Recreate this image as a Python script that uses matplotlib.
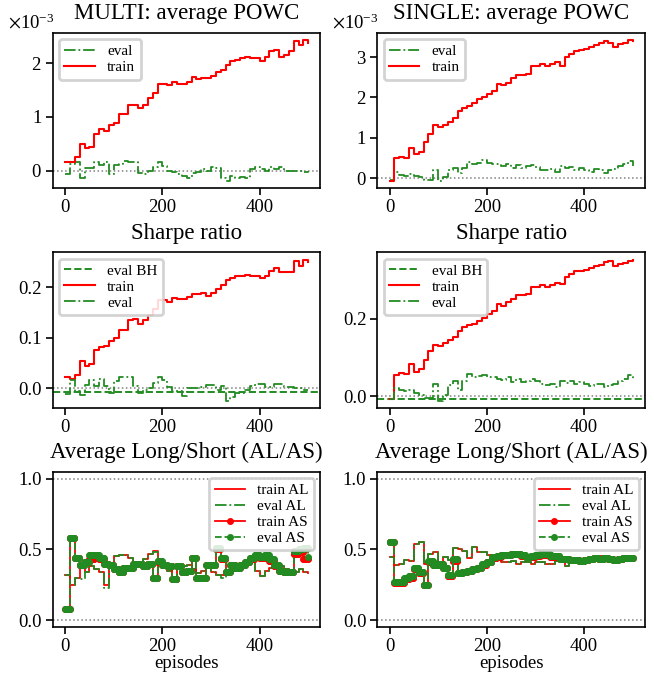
import numpy as np
import matplotlib.pyplot as plt
from matplotlib.ticker import ScalarFormatter

# --- dados (um valor a cada 10 episódios) ---
episodios = np.arange(0, 501, 10)

# POWC médio (x 1e-3)
multi_powc_train = [0.15, 0.15, 0.25, 0.50, 0.42, 0.43, 0.69, 0.77, 0.73, 0.84,
                    0.89, 1.06, 1.06, 1.22, 1.23, 1.17, 1.23, 1.35, 1.45, 1.62,
                    1.61, 1.59, 1.65, 1.62, 1.61, 1.65, 1.74, 1.71, 1.72, 1.72,
                    1.77, 1.84, 1.88, 1.97, 2.04, 2.06, 2.09, 2.11, 2.09, 2.10,
                    2.04, 2.11, 2.23, 2.24, 2.11, 2.16, 2.22, 2.41, 2.33, 2.43, 2.38]
multi_powc_eval = [-0.07, 0.12, 0.15, -0.13, 0.05, 0.04, 0.15, 0.11, 0.15, -0.07,
                   0.10, 0.12, 0.17, 0.15, 0.15, -0.04, -0.07, -0.01, 0.06, 0.15,
                   0.08, 0.00, -0.02, -0.07, -0.10, -0.13, -0.04, -0.02, 0.02, -0.01,
                   0.07, 0.04, -0.13, -0.20, -0.10, -0.13, -0.12, -0.13, 0.02, 0.06,
                   0.03, 0.00, 0.06, 0.02, 0.06, 0.00, 0.00, 0.00, -0.01, -0.02, -0.01]
single_powc_train = [-0.07, 0.49, 0.52, 0.49, 0.75, 0.60, 0.65, 0.90, 1.10, 1.31,
                     1.27, 1.31, 1.39, 1.49, 1.66, 1.74, 1.79, 1.85, 1.96, 2.00,
                     2.08, 2.15, 2.33, 2.30, 2.36, 2.48, 2.56, 2.56, 2.58, 2.77,
                     2.77, 2.82, 2.77, 2.83, 2.87, 2.77, 3.00, 3.08, 3.15, 3.17,
                     3.19, 3.24, 3.29, 3.34, 3.39, 3.34, 3.25, 3.32, 3.34, 3.42, 3.39]
single_powc_eval = [-0.05, 0.15, 0.08, 0.06, 0.10, 0.05, 0.02, -0.05, -0.04, 0.20,
                    -0.08, 0.02, 0.20, 0.25, 0.12, 0.25, 0.40, 0.35, 0.38, 0.44,
                    0.38, 0.36, 0.35, 0.30, 0.35, 0.25, 0.32, 0.25, 0.30, 0.32,
                    0.28, 0.20, 0.20, 0.22, 0.15, 0.30, 0.25, 0.28, 0.20, 0.25,
                    0.20, 0.15, 0.22, 0.20, 0.12, 0.20, 0.22, 0.30, 0.35, 0.42, 0.30]

# Sharpe ratio
multi_sharpe_train = [0.022, 0.017, 0.026, 0.054, 0.044, 0.047, 0.076, 0.082, 0.084, 0.093,
                      0.100, 0.116, 0.115, 0.134, 0.136, 0.127, 0.135, 0.145, 0.157, 0.174,
                      0.174, 0.170, 0.179, 0.176, 0.177, 0.181, 0.186, 0.186, 0.188, 0.182,
                      0.189, 0.196, 0.204, 0.215, 0.218, 0.223, 0.223, 0.224, 0.222, 0.223,
                      0.219, 0.223, 0.233, 0.238, 0.230, 0.230, 0.230, 0.253, 0.243, 0.255, 0.251]
multi_sharpe_eval = [-0.012, 0.015, -0.005, -0.013, 0.007, 0.016, 0.005, 0.018, 0.005, -0.010,
                     0.014, 0.022, 0.021, 0.021, 0.005, -0.010, -0.003, 0.000, 0.010, 0.022,
                     0.015, 0.003, -0.006, -0.006, -0.015, 0.000, 0.000, 0.000, 0.002, 0.006,
                     0.006, -0.004, 0.005, -0.025, -0.018, -0.010, -0.010, -0.004, 0.005, 0.009,
                     0.009, 0.003, 0.003, 0.008, 0.008, 0.002, 0.002, 0.000, 0.000, -0.003, -0.003]
multi_sharpe_bh = -0.008
single_sharpe_train = [-0.009, 0.055, 0.059, 0.057, 0.083, 0.061, 0.070, 0.094, 0.116, 0.133,
                       0.130, 0.137, 0.146, 0.153, 0.168, 0.179, 0.183, 0.185, 0.194, 0.202,
                       0.211, 0.220, 0.237, 0.233, 0.242, 0.252, 0.261, 0.261, 0.263, 0.283,
                       0.283, 0.287, 0.281, 0.287, 0.292, 0.290, 0.307, 0.316, 0.322, 0.324,
                       0.327, 0.330, 0.336, 0.339, 0.346, 0.348, 0.337, 0.342, 0.344, 0.350, 0.353]
single_sharpe_eval = [-0.008, 0.020, 0.015, 0.012, 0.015, 0.008, 0.002, -0.005, -0.005, 0.030,
                      -0.012, 0.003, 0.028, 0.038, 0.015, 0.038, 0.057, 0.050, 0.052, 0.055,
                      0.050, 0.048, 0.045, 0.042, 0.048, 0.035, 0.045, 0.035, 0.040, 0.043,
                      0.040, 0.030, 0.028, 0.030, 0.022, 0.040, 0.033, 0.038, 0.030, 0.035,
                      0.030, 0.025, 0.032, 0.030, 0.022, 0.028, 0.030, 0.040, 0.045, 0.055, 0.040]
single_sharpe_bh = -0.008

# Average Long / Short
multi_train_al = [0.32, 0.25, 0.30, 0.37, 0.34, 0.38, 0.36, 0.34, 0.25, 0.40,
                  0.455, 0.46, 0.46, 0.44, 0.40, 0.39, 0.43, 0.47, 0.49, 0.39,
                  0.37, 0.35, 0.37, 0.36, 0.385, 0.39, 0.36, 0.33, 0.35, 0.37,
                  0.34, 0.32, 0.32, 0.35, 0.36, 0.39, 0.40, 0.40, 0.41, 0.35,
                  0.315, 0.35, 0.37, 0.40, 0.385, 0.36, 0.35, 0.34, 0.36, 0.34, 0.33]
multi_eval_al = [0.32, 0.25, 0.30, 0.29, 0.34, 0.38, 0.36, 0.34, 0.23, 0.40,
                 0.455, 0.46, 0.46, 0.44, 0.40, 0.39, 0.43, 0.47, 0.48, 0.39,
                 0.37, 0.35, 0.37, 0.36, 0.385, 0.39, 0.36, 0.33, 0.35, 0.37,
                 0.34, 0.32, 0.30, 0.35, 0.36, 0.39, 0.40, 0.40, 0.41, 0.35,
                 0.315, 0.35, 0.37, 0.40, 0.385, 0.36, 0.35, 0.34, 0.36, 0.34, 0.33]
multi_train_as = [0.075, 0.58, 0.44, 0.39, 0.41, 0.43, 0.44, 0.43, 0.40, 0.39,
                  0.36, 0.34, 0.37, 0.37, 0.40, 0.40, 0.385, 0.40, 0.30, 0.41,
                  0.39, 0.38, 0.29, 0.38, 0.34, 0.35, 0.44, 0.30, 0.30, 0.39,
                  0.39, 0.50, 0.43, 0.34, 0.39, 0.37, 0.39, 0.41, 0.43, 0.45,
                  0.44, 0.45, 0.42, 0.38, 0.35, 0.34, 0.34, 0.47, 0.48, 0.43, 0.44]
multi_eval_as = [0.075, 0.58, 0.44, 0.39, 0.41, 0.46, 0.46, 0.44, 0.40, 0.39,
                 0.36, 0.34, 0.37, 0.37, 0.40, 0.40, 0.385, 0.40, 0.30, 0.42,
                 0.39, 0.38, 0.29, 0.38, 0.34, 0.35, 0.44, 0.30, 0.30, 0.39,
                 0.39, 0.51, 0.44, 0.34, 0.39, 0.37, 0.39, 0.41, 0.44, 0.46,
                 0.45, 0.46, 0.43, 0.39, 0.35, 0.34, 0.34, 0.49, 0.50, 0.51, 0.45]
single_train_al = [0.45, 0.39, 0.395, 0.425, 0.42, 0.54, 0.55, 0.395, 0.47, 0.48,
                   0.41, 0.45, 0.425, 0.51, 0.50, 0.49, 0.44, 0.52, 0.48, 0.48,
                   0.46, 0.455, 0.425, 0.41, 0.41, 0.42, 0.40, 0.41, 0.41, 0.40,
                   0.41, 0.41, 0.40, 0.40, 0.42, 0.41, 0.38, 0.44, 0.44, 0.435,
                   0.44, 0.45, 0.44, 0.455, 0.45, 0.45, 0.44, 0.435, 0.44, 0.445, 0.45]
single_eval_al = [0.45, 0.39, 0.395, 0.425, 0.42, 0.54, 0.55, 0.395, 0.47, 0.48,
                  0.41, 0.45, 0.425, 0.51, 0.50, 0.49, 0.45, 0.52, 0.48, 0.48,
                  0.46, 0.455, 0.425, 0.41, 0.41, 0.42, 0.40, 0.41, 0.41, 0.40,
                  0.41, 0.41, 0.40, 0.40, 0.42, 0.41, 0.38, 0.44, 0.44, 0.435,
                  0.44, 0.45, 0.44, 0.455, 0.45, 0.45, 0.44, 0.435, 0.44, 0.445, 0.45]
single_train_as = [0.555, 0.26, 0.265, 0.29, 0.30, 0.36, 0.33, 0.25, 0.41, 0.39,
                   0.395, 0.37, 0.31, 0.42, 0.33, 0.34, 0.35, 0.36, 0.37, 0.39,
                   0.41, 0.44, 0.45, 0.46, 0.46, 0.465, 0.47, 0.455, 0.45, 0.45,
                   0.455, 0.46, 0.46, 0.45, 0.45, 0.43, 0.43, 0.425, 0.425, 0.42,
                   0.425, 0.43, 0.44, 0.435, 0.44, 0.435, 0.425, 0.43, 0.437, 0.44, 0.44]
single_eval_as = [0.555, 0.27, 0.27, 0.295, 0.31, 0.37, 0.34, 0.25, 0.42, 0.39,
                  0.395, 0.37, 0.32, 0.43, 0.33, 0.34, 0.35, 0.36, 0.37, 0.395,
                  0.41, 0.45, 0.455, 0.46, 0.46, 0.47, 0.47, 0.46, 0.45, 0.455,
                  0.46, 0.465, 0.465, 0.455, 0.455, 0.43, 0.43, 0.425, 0.425, 0.42,
                  0.425, 0.43, 0.44, 0.435, 0.44, 0.435, 0.425, 0.43, 0.437, 0.44, 0.44]
# ---------------------------------------------------------------

plt.rcParams['font.family'] = ['Liberation Serif', 'DejaVu Serif']
plt.rcParams['mathtext.fontset'] = 'stix'
plt.rcParams['font.size'] = 13

VERMELHO = '#ff0000'
VERDE = '#228b22'


def estilo(ax, yticks, titulo):
    # y fixo: evita que o título suba por causa do texto de offset
    ax.set_title(titulo, fontsize=16.5, y=1.0, pad=10)
    ax.set_xticks([0, 200, 400])
    ax.set_yticks(yticks)
    ax.tick_params(direction='out', length=5, width=1.2, labelsize=13.5,
                   top=False, right=False, pad=3)
    for s in ax.spines.values():
        s.set_linewidth(1.2)


def legenda(ax, loc):
    leg = ax.legend(loc=loc, fontsize=11, framealpha=0.85, edgecolor='0.8',
                    labelspacing=0.15, borderpad=0.35, handlelength=2.0,
                    handletextpad=0.8, borderaxespad=0.4)
    leg.get_frame().set_linewidth(2.0)


def passos(ax, y, **kw):
    ax.plot(episodios, y, drawstyle='steps-post', **kw)


def passos_marcados(ax, y, **kw):
    # um marcador por episódio, valor mantido dentro de cada bloco de 10
    ep = np.arange(0, 501)
    ax.plot(ep, np.asarray(y)[ep // 10], drawstyle='steps-post',
            marker='o', markersize=4, **kw)


fig, axes = plt.subplots(3, 2, figsize=(6.54, 6.75), dpi=100)
fig.subplots_adjust(left=0.081, right=0.986, top=0.951, bottom=0.071,
                    wspace=0.213, hspace=0.413)

# linha 1: POWC
for ax, tr, ev, nome, yt in [
        (axes[0, 0], multi_powc_train, multi_powc_eval, 'MULTI', [0, 1e-3, 2e-3]),
        (axes[0, 1], single_powc_train, single_powc_eval, 'SINGLE', [0, 1e-3, 2e-3, 3e-3])]:
    ax.axhline(0, color='gray', ls=':', lw=1.1)
    passos(ax, np.array(ev) * 1e-3, color=VERDE, ls='-.', lw=1.3, label='eval')
    passos(ax, np.array(tr) * 1e-3, color=VERMELHO, ls='-', lw=1.5, label='train')
    fmt = ScalarFormatter(useMathText=True)
    fmt.set_powerlimits((-2, 2))
    ax.yaxis.set_major_formatter(fmt)
    off = ax.yaxis.get_offset_text()
    off.set_fontsize(13.5)
    off.set_x(-0.17)
    estilo(ax, yt, f'{nome}: average POWC')
    legenda(ax, 'upper left')

# linha 2: Sharpe
for ax, tr, ev, bh, yt in [
        (axes[1, 0], multi_sharpe_train, multi_sharpe_eval, multi_sharpe_bh, [0.0, 0.1, 0.2]),
        (axes[1, 1], single_sharpe_train, single_sharpe_eval, single_sharpe_bh, [0.0, 0.2])]:
    ax.axhline(0, color='gray', ls=':', lw=1.1)
    ax.axhline(bh, color=VERDE, ls='--', lw=1.4, label='eval BH')
    passos(ax, tr, color=VERMELHO, ls='-', lw=1.5, label='train')
    passos(ax, ev, color=VERDE, ls='-.', lw=1.3, label='eval')
    estilo(ax, yt, 'Sharpe ratio')
    ax.set_yticklabels([f'{v:.1f}' for v in yt])
    legenda(ax, 'upper left')

# linha 3: Long/Short
for ax, tal, eal, tas, eas in [
        (axes[2, 0], multi_train_al, multi_eval_al, multi_train_as, multi_eval_as),
        (axes[2, 1], single_train_al, single_eval_al, single_train_as, single_eval_as)]:
    ax.axhline(0, color='gray', ls=':', lw=1.1)
    ax.axhline(1, color='gray', ls=':', lw=1.1)
    passos(ax, tal, color=VERMELHO, ls='-', lw=1.3, label='train AL')
    passos(ax, eal, color=VERDE, ls='-.', lw=1.3, label='eval AL')
    passos_marcados(ax, tas, color=VERMELHO, ls='-', lw=1.3, label='train AS')
    passos_marcados(ax, eas, color=VERDE, ls='--', lw=1.3, label='eval AS')
    estilo(ax, [0.0, 0.5, 1.0], 'Average Long/Short (AL/AS)')
    ax.set_yticklabels(['0.0', '0.5', '1.0'])
    ax.set_xlabel('episodes', fontsize=13.5, labelpad=0)
    legenda(ax, 'upper right')

plt.savefig('out.png', dpi=100)
